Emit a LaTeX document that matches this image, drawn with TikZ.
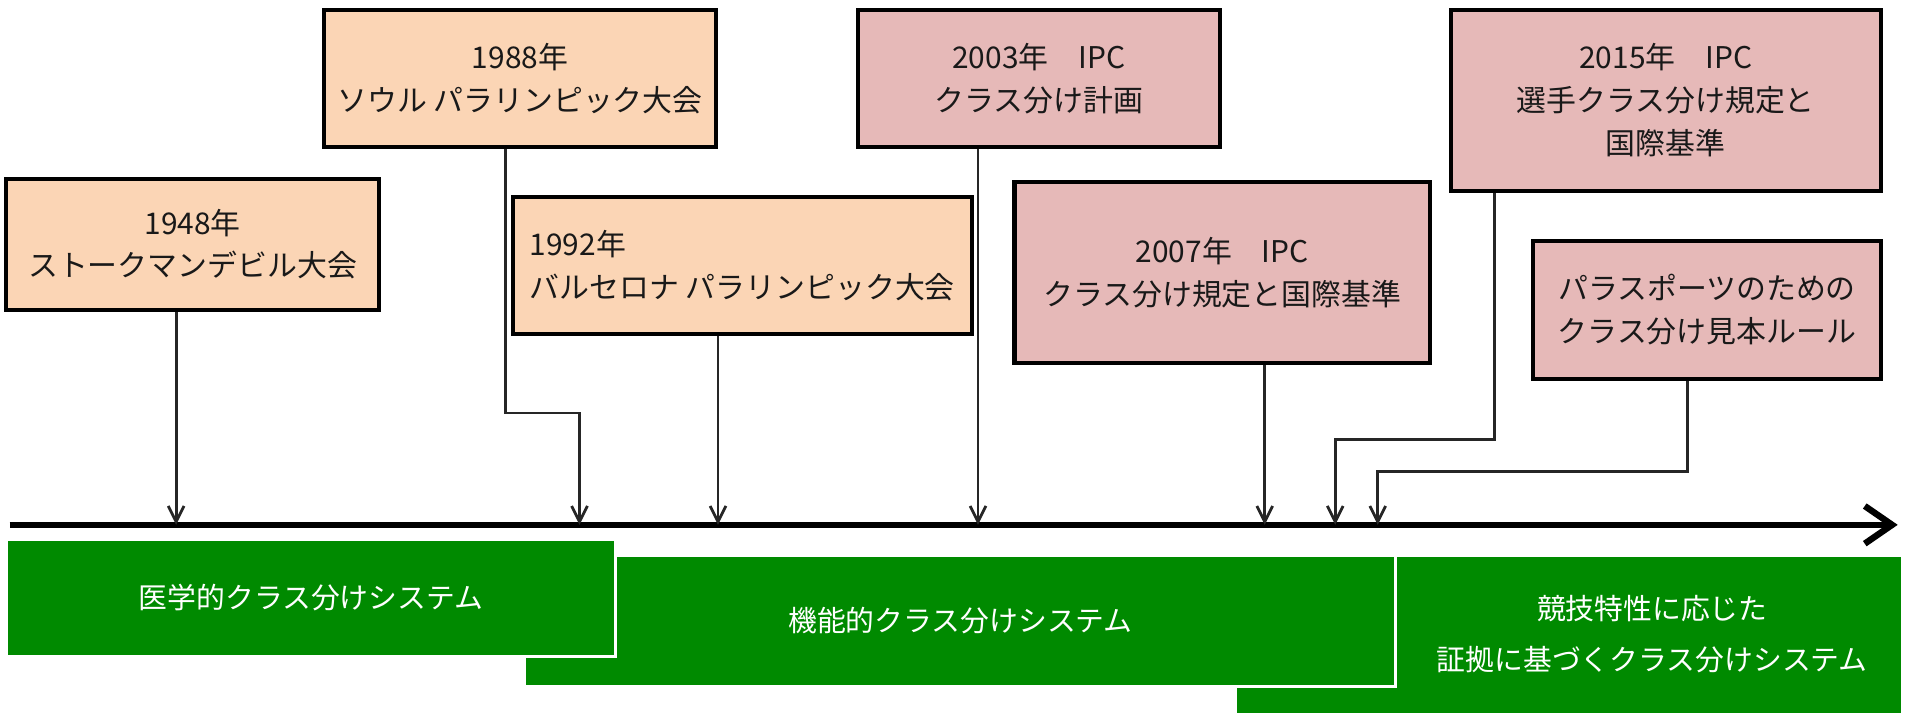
\documentclass[tikz,border=0pt]{standalone}
\usepackage{fontspec}
\setmainfont{Noto Sans CJK JP}
\usetikzlibrary{arrows.meta}
\definecolor{evpeach}{RGB}{251,213,181}
\definecolor{evpink}{RGB}{230,185,184}
\definecolor{evgreen}{RGB}{0,138,0}

\begin{document}
\begin{tikzpicture}
  [x=0.02cm,y=-0.02cm,
   every node/.style={draw=black,line width=1.9pt,inner sep=0pt,align=center,text=black!90,font=\fontsize{14}{20}\selectfont},
   early/.style={fill=evpeach},
   ipc/.style={fill=evpink},
   band/.style={draw=white,line width=1.4pt,fill=evgreen,text=white,font=\fontsize{13.5}{24}\selectfont},
   conn/.style={draw=black!85,line width=1.3pt,-{Straight Barb[length=0.26cm,width=0.26cm]}}]

  \useasboundingbox (0,0) rectangle (1568,588);

  \node[band,minimum width=10.98cm,minimum height=2.62cm] (g3) at (1291.5,522.5) {};
  \node[band,minimum width=14.34cm,minimum height=2.16cm] (g2) at (790.5,511) {機能的クラス分けシステム};
  \node[band,minimum width=10.04cm,minimum height=1.92cm] (g1) at (256,492) {医学的クラス分けシステム};
  \node[draw=none,text=white,font=\fontsize{13.5}{24}\selectfont] (g3t) at (1360,522) {競技特性に応じた\\証拠に基づくクラス分けシステム};

  \node[early,minimum width=6.14cm,minimum height=2.16cm] (n1948) at (158.5,201) {1948年\\ストークマンデビル大会};
  \node[early,minimum width=6.44cm,minimum height=2.26cm] (n1988) at (428,64.5) {1988年\\ソウル パラリンピック大会};
  \node[early,minimum width=7.56cm,minimum height=2.26cm,align=left] (n1992) at (611,218.5) {1992年\\バルセロナ パラリンピック大会};
  \node[ipc,minimum width=5.96cm,minimum height=2.26cm] (n2003) at (855,64.5) {2003年　IPC\\クラス分け計画};
  \node[ipc,minimum width=6.84cm,minimum height=2.98cm] (n2007) at (1006,224.5) {2007年　IPC\\クラス分け規定と国際基準};
  \node[ipc,minimum width=7.08cm,minimum height=2.98cm] (n2015) at (1371,82.5) {2015年　IPC\\選手クラス分け規定と\\国際基準};
  \node[ipc,minimum width=5.72cm,minimum height=2.28cm] (nrule) at (1405,255) {パラスポーツのための\\クラス分け見本ルール};

  \coordinate (t0) at (8,432);
  \coordinate (t1) at (1562,432);
  \coordinate (a1) at (145,432);
  \coordinate (a2) at (477,432);
  \coordinate (a3) at (591,432);
  \coordinate (a4) at (805,432);
  \coordinate (a5) at (1041,432);
  \coordinate (a6) at (1099,432);
  \coordinate (a7) at (1134,432);
  \coordinate (d2) at (416,340);
  \coordinate (d6) at (1230,362);
  \coordinate (d7) at (1389,388);

  \draw[line width=3pt,-{Straight Barb[length=0.45cm,width=0.62cm]}] (t0) -- (t1);

  \foreach \from/\to in {n1948/a1,n1992/a3,n2003/a4,n2007/a5}
    \draw[conn] (\from.south -| \to) -- (\to);
  \foreach \from/\bend/\to in {n1988/d2/a2,n2015/d6/a6,nrule/d7/a7}
    \draw[conn] (\from.south -| \bend) -- (\bend) -| (\to);
\end{tikzpicture}
\end{document}
